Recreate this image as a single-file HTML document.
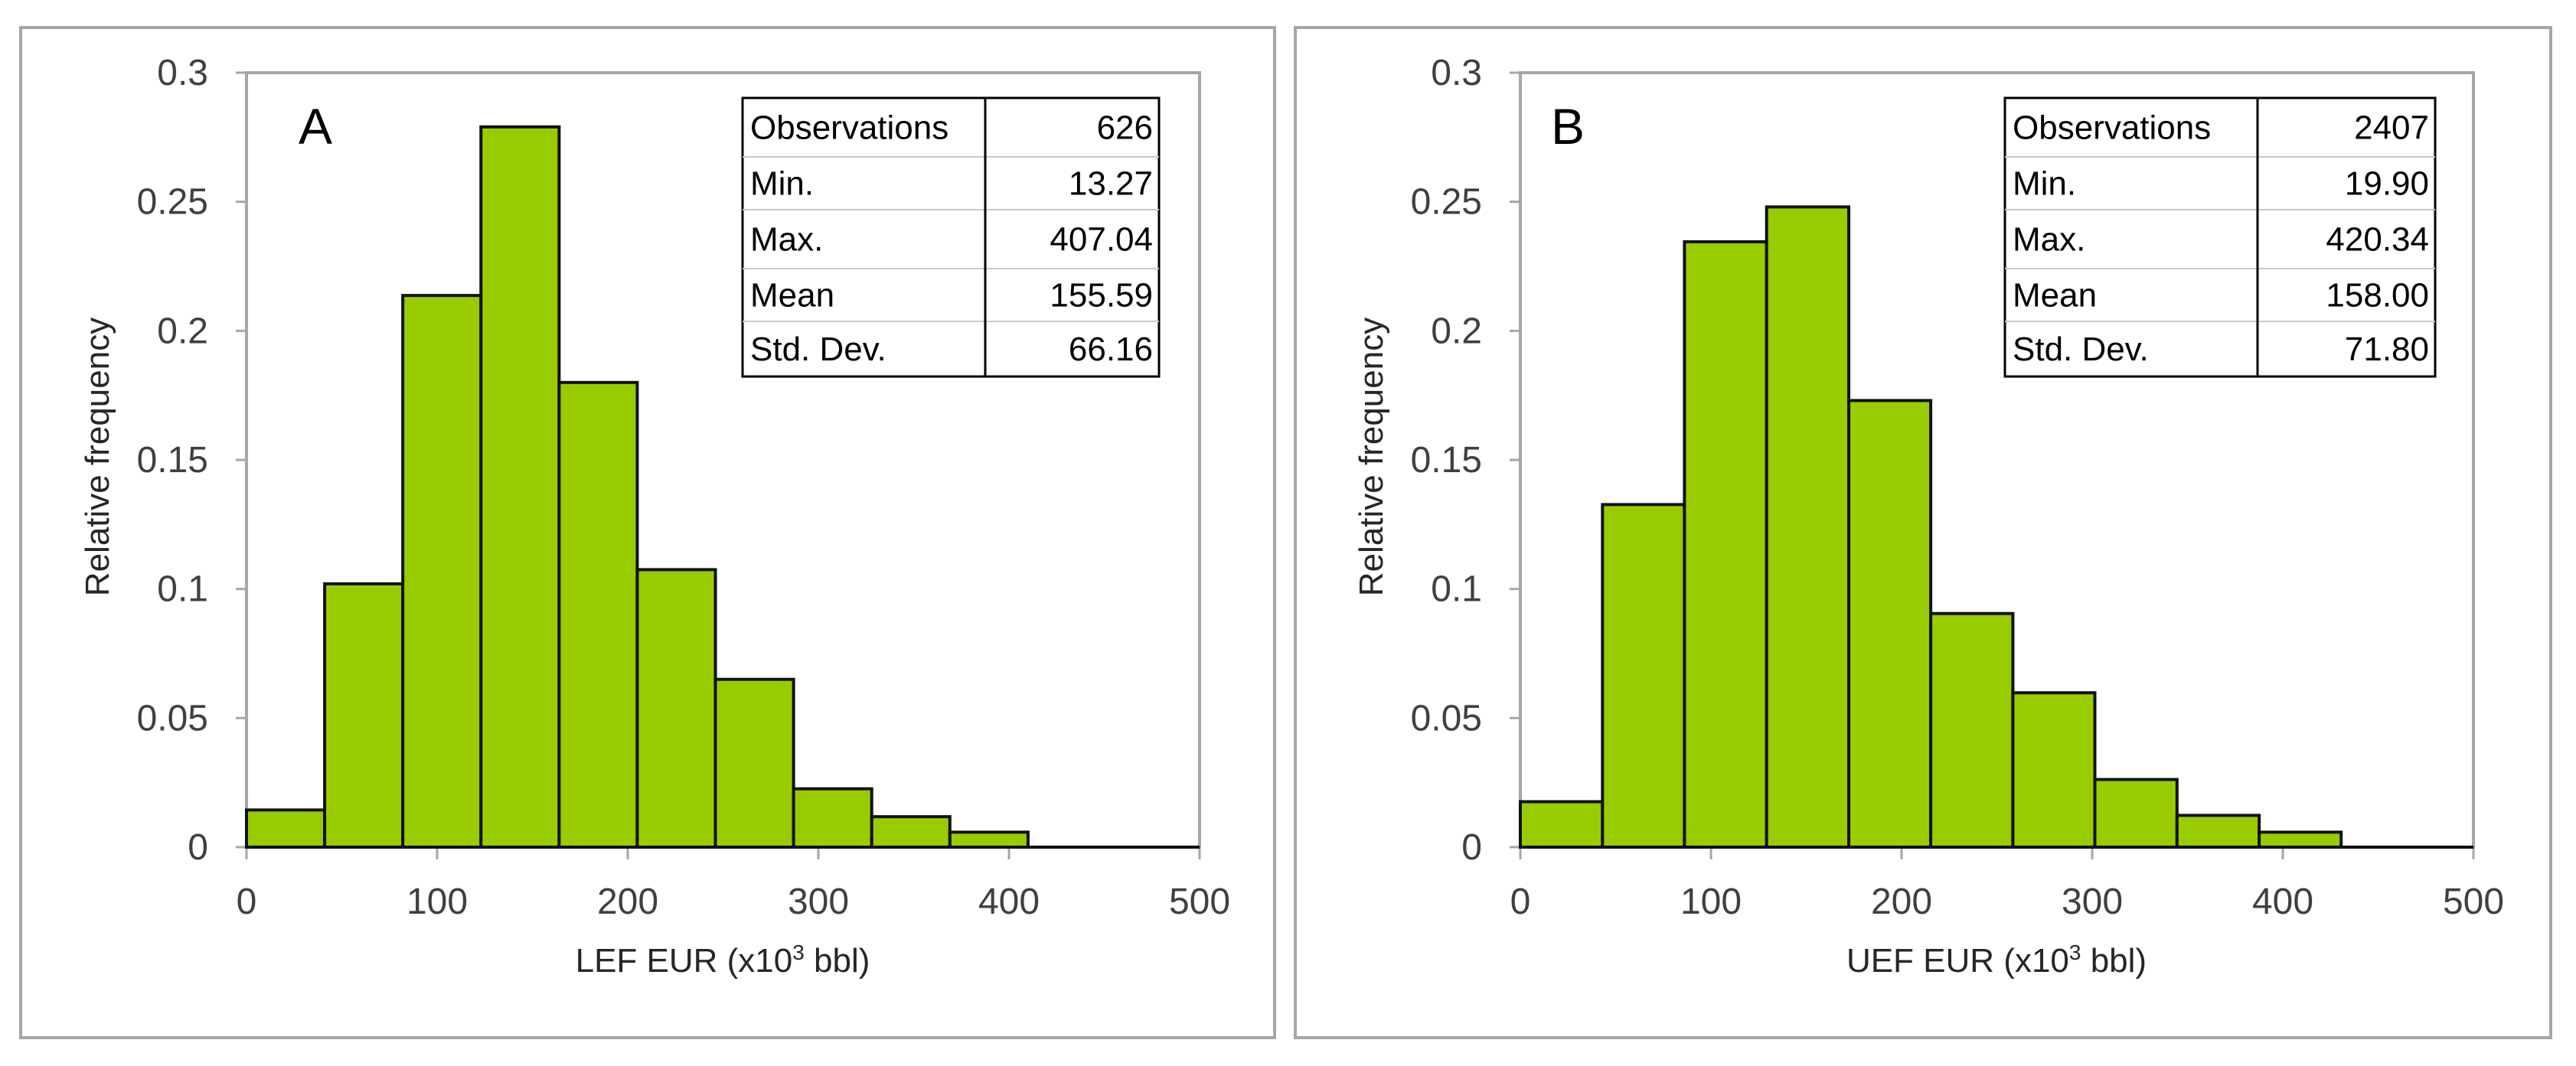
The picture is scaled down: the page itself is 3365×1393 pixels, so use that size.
<!DOCTYPE html>
<html><head><meta charset="utf-8"><style>
body{margin:0;background:#fff;}
svg{display:block;font-family:"Liberation Sans",sans-serif;}
</style></head><body>
<svg id="s" width="3365" height="1393" viewBox="0 0 3365 1393"></svg>
<script>
const xTicks=[0,100,200,300,400,500];
const yTicks=[0,0.05,0.1,0.15,0.2,0.25,0.3];
const yTickLabels=["0","0.05","0.1","0.15","0.2","0.25","0.3"];
const binEdgesA=[0,41,82,123,164,205,246,287,328,369,410];
const freqA=[0.0144,0.102,0.2137,0.279,0.180,0.1075,0.065,0.0226,0.0118,0.0058];
const binEdgesB=[0,43.1,86.1,129.2,172.3,215.3,258.4,301.4,344.5,387.6,430.6];
const freqB=[0.0176,0.1327,0.2345,0.248,0.173,0.0905,0.0598,0.0262,0.0123,0.0058];
const statLabels=["Observations","Min.","Max.","Mean","Std. Dev."];
const statsA=["626","13.27","407.04","155.59","66.16"];
const statsB=["2407","19.90","420.34","158.00","71.80"];
const NS="http://www.w3.org/2000/svg";
const svg=document.getElementById('s');
function mk(tag,attrs,parent,text){const e=document.createElementNS(NS,tag);for(const k in attrs)e.setAttribute(k,attrs[k]);if(text!==undefined)e.textContent=text;(parent||svg).appendChild(e);return e;}
function panel(id,px0,px1,pl,letter,edges,freq,stats,xtitle,tx0,tdiv,tx1){
  const g=mk('g',{});
  
  
  const fr=mk('rect',{x:px0,y:36,width:px1-px0,height:1320,fill:'none',stroke:'#a6a6a6','stroke-width':4},g);
  
  
  const top=95,bot=1107,W=1245;
  const X=v=>pl+v/500*W, Y=v=>bot-v/0.3*(bot-top);
  mk('rect',{x:pl,y:top,width:W,height:bot-top,fill:'none',stroke:'#a6a6a6','stroke-width':4},g);
  yTicks.forEach((t,i)=>{
    mk('line',{x1:pl-14,x2:pl,y1:Y(t),y2:Y(t),stroke:'#a6a6a6','stroke-width':3},g);
    const tl=mk('text',{x:pl-50,y:Y(t)+16,'text-anchor':'end','font-size':48,fill:'#404040'},g,yTickLabels[i]);
    
    
  });
  xTicks.forEach(t=>{
    mk('line',{x1:X(t),x2:X(t),y1:bot,y2:bot+16,stroke:'#a6a6a6','stroke-width':3},g);
    const tl=mk('text',{x:X(t),y:1194,'text-anchor':'middle','font-size':48,fill:'#404040'},g,String(t));
    
    
  });
  freq.forEach((f,i)=>{
    const r=mk('rect',{x:X(edges[i]),y:Y(f),width:X(edges[i+1])-X(edges[i]),height:bot-Y(f),fill:'#99cc00',stroke:'#111','stroke-width':4},g);
    
    
  });
  mk('line',{x1:X(edges[edges.length-1]),x2:pl+W,y1:bot,y2:bot,stroke:'#111','stroke-width':4},g);
  const lt=mk('text',{x:pl+(id==='a'?68:40),y:188,'font-size':66,fill:'#000'},g,letter);
  
  
  const yt=mk('text',{x:0,y:0,transform:`translate(${pl-180},597) rotate(-90)`,'text-anchor':'middle','font-size':44,fill:'#262626'},g,'Relative frequency');
  
  
  const xt=mk('text',{x:pl+622,y:1270,'text-anchor':'middle','font-size':44,fill:'#262626'},g);
  
  
  xt.appendChild(document.createTextNode(xtitle+' (x10'));
  mk('tspan',{dy:-16,'font-size':28},xt,'3');
  mk('tspan',{dy:16},xt,' bbl)');
  const tb=mk('g',{},g);
  
  
  const rows=[128,205,274,351,420,492];
  mk('rect',{x:tx0,y:128,width:tx1-tx0,height:364,fill:'#fff',stroke:'#000','stroke-width':3},tb);
  for(let i=1;i<5;i++)mk('line',{x1:tx0,x2:tx1,y1:rows[i],y2:rows[i],stroke:'#c8c8c8','stroke-width':2},tb);
  mk('line',{x1:tdiv,x2:tdiv,y1:128,y2:492,stroke:'#000','stroke-width':3},tb);
  statLabels.forEach((l,i)=>{
    const cy=(rows[i]+rows[i+1])/2+15;
    mk('text',{x:tx0+10,y:cy,'font-size':44,fill:'#000'},tb,l);
    mk('text',{x:tx1-8,y:cy,'font-size':44,fill:'#000','text-anchor':'end'},tb,stats[i]);
  });
}
panel('a',27,1665,322,'A',binEdgesA,freqA,statsA,'LEF EUR',970,1287,1514);
panel('b',1692,3332,1986,'B',binEdgesB,freqB,statsB,'UEF EUR',2619,2949,3181);
</script>
</body></html>
